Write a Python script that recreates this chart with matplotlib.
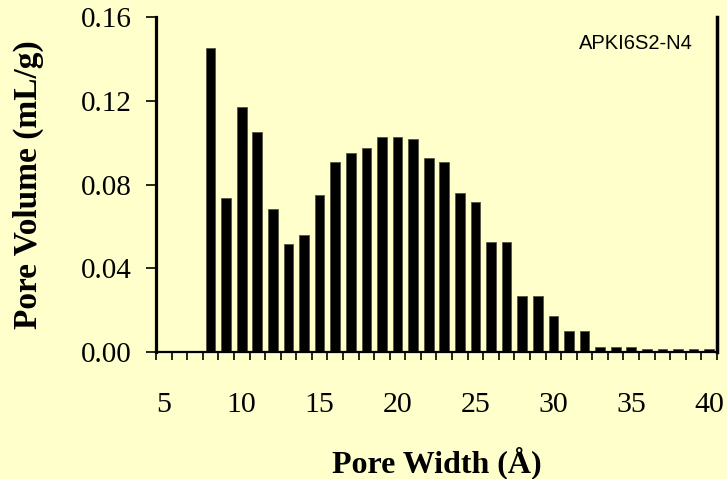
import matplotlib
matplotlib.use("Agg")
import matplotlib.pyplot as plt
import numpy as np

pore_width = list(range(5, 41))
pore_volume = [0.0, 0.0, 0.0,
               0.145, 0.0737, 0.1172, 0.1049, 0.0681, 0.0514, 0.0559, 0.0750,
               0.0906, 0.0949, 0.0973, 0.1027, 0.1027, 0.1017, 0.0926, 0.0906,
               0.0759, 0.0715, 0.0525, 0.0525, 0.0269, 0.0269, 0.0170, 0.0102,
               0.0102, 0.0022, 0.0022, 0.0022, 0.0013, 0.0013, 0.0013, 0.0013,
               0.0013]
x_tick_labels = [5, 10, 15, 20, 25, 30, 35, 40]
y_ticks = [0.00, 0.04, 0.08, 0.12, 0.16]
sample_label = "APKI6S2-N4"

bg = "#FFFFCC"
fig = plt.figure(figsize=(7.27, 4.79), dpi=100, facecolor=bg)
ax = fig.add_axes([0.2146, 0.2651, 0.7716, 0.6994], facecolor=bg)

ax.bar(pore_width, pore_volume, width=0.62, color="black",
       edgecolor="#555544", linewidth=0.6, zorder=2)

ax.set_xlim(4.5, 40.5)
ax.set_ylim(0, 0.16)

serif = ["Liberation Serif", "DejaVu Serif"]

ax.set_yticks(y_ticks)
ax.set_yticklabels([f"{v:.2f}" for v in y_ticks], fontsize=21, family=serif)
ax.tick_params(axis="y", direction="out", length=7.5, width=1.2, pad=10)

ax.set_xticks(x_tick_labels)
ax.set_xticklabels([str(v) for v in x_tick_labels], fontsize=21.5, family=serif)
ax.tick_params(axis="x", which="major", length=0, pad=29)
ax.set_xticks(np.arange(4.5, 41, 1.0), minor=True)
ax.tick_params(axis="x", which="minor", direction="out", length=5.5, width=1.2)

ax.spines["left"].set_linewidth(2.3)
ax.spines["right"].set_linewidth(2.5)
ax.spines["bottom"].set_linewidth(1.6)
ax.spines["top"].set_visible(False)

fig.text(436.5 / 727, 1 - 463 / 479, "Pore Width (Å)", fontsize=23,
         fontweight="bold", family=serif, ha="center", va="center")
fig.text(28 / 727, 1 - 184.5 / 479, "Pore Volume (mL/g)", fontsize=24,
         fontweight="bold", family=serif, ha="center", va="center",
         rotation=90)

ax.text(0.957, 0.922, sample_label, transform=ax.transAxes, ha="right",
        va="center", fontsize=14.5, family=["Liberation Sans", "DejaVu Sans"])

fig.savefig("out.png", dpi=100, facecolor=bg)
